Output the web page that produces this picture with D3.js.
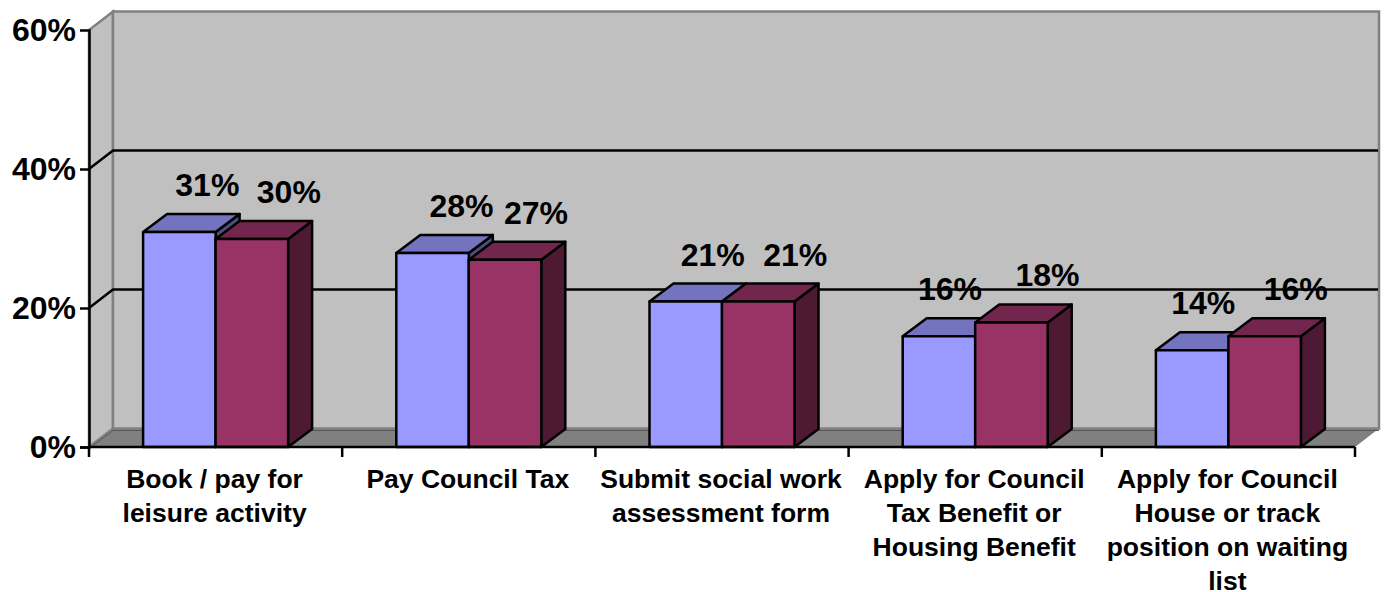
<!DOCTYPE html>
<html>
<head>
<meta charset="utf-8">
<script src="https://cdn.jsdelivr.net/npm/d3@7"></script>
<style>
  html, body { margin: 0; background: #fff; }
  svg { display: block; }
  text { font-family: "Liberation Sans", Arial, sans-serif; font-weight: bold; fill: #000; }
</style>
</head>
<body>
<svg id="chart" width="1385" height="592"></svg>
<script>
const categories = [
  ["Book / pay for", "leisure activity"],
  ["Pay Council Tax"],
  ["Submit social work", "assessment form"],
  ["Apply for Council", "Tax Benefit or", "Housing Benefit"],
  ["Apply for Council", "House or track", "position on waiting", "list"]
];
const seriesA = [31, 28, 21, 16, 14];
const seriesB = [30, 27, 21, 18, 16];
const yTicks = [0, 20, 40, 60];

// hand placed data labels, px right of the bar centre
const labelNudgeA = [28, 29, 27, 11, 11];
const labelNudgeB = [37, 31, 37, 36, 31];

const svg = d3.select("#chart");
const plotL = 89, plotR = 1355, plotB = 447, plotT = 30;
const wallDx = 24, wallDy = 18.5;   // depth of the chart box
const barDx = 24, barDy = 18;       // depth of a bar
const groupW = 145;

const x = d3.scaleBand().domain(d3.range(categories.length)).range([plotL, plotR]);
const series = d3.scaleBand().domain([0, 1]).range([0, groupW]);
const y = d3.scaleLinear().domain([0, 60]).range([plotB, plotT]);
const poly = pts => pts.map(p => p.join(",")).join(" ");

// walls and floor
svg.append("polygon")
  .attr("points", poly([[plotL, plotB], [plotL, plotT], [plotL + wallDx, plotT - wallDy], [plotL + wallDx, plotB - wallDy]]))
  .attr("fill", "#c0c0c0").attr("stroke", "#808080").attr("stroke-width", 2.5);
svg.append("polygon")
  .attr("points", poly([[plotL + wallDx, plotB - wallDy], [plotL + wallDx, plotT - wallDy], [plotR + wallDx, plotT - wallDy], [plotR + wallDx, plotB - wallDy]]))
  .attr("fill", "#c0c0c0").attr("stroke", "#808080").attr("stroke-width", 2.5);
svg.append("polygon")
  .attr("points", poly([[plotL, plotB], [plotL + wallDx, plotB - wallDy], [plotR + wallDx, plotB - wallDy], [plotR, plotB]]))
  .attr("fill", "#808080");
svg.append("polyline")
  .attr("points", poly([[plotL + 2, plotB], [plotL + wallDx, plotB - wallDy + 2], [plotR + wallDx, plotB - wallDy + 2]]))
  .attr("fill", "none").attr("stroke", "#555").attr("stroke-width", 1);

// gridlines
yTicks.filter(t => t > 0 && t < 60).forEach(t => {
  svg.append("polyline")
    .attr("points", poly([[plotL, y(t)], [plotL + wallDx, y(t) - wallDy], [plotR + wallDx - 1, y(t) - wallDy]]))
    .attr("fill", "none").attr("stroke", "#000").attr("stroke-width", 2.5);
});

// bars
function drawBar(i, s, v, front, topFace, side) {
  const x0 = x(i) + (x.bandwidth() - groupW) / 2 + series(s);
  const x1 = x0 + series.bandwidth();
  const yt = y(v) + 0.5;
  const g = svg.append("g").attr("stroke", "#000").attr("stroke-width", 2.5).attr("stroke-linejoin", "round");
  g.append("polygon").attr("fill", side)
    .attr("points", poly([[x1, plotB], [x1, yt], [x1 + barDx, yt - barDy], [x1 + barDx, plotB - barDy]]));
  g.append("polygon").attr("fill", topFace)
    .attr("points", poly([[x0, yt], [x0 + barDx, yt - barDy], [x1 + barDx, yt - barDy], [x1, yt]]));
  g.append("rect").attr("x", x0).attr("y", yt).attr("width", x1 - x0).attr("height", plotB - yt).attr("fill", front);
}
categories.forEach((c, i) => {
  drawBar(i, 0, seriesA[i], "#9999ff", "#7373bf", "#4d4d80");
  drawBar(i, 1, seriesB[i], "#993366", "#73264d", "#4d1933");
});

// axes
const yAxis = d3.axisLeft(y).tickValues(yTicks).tickSize(9).tickPadding(4).tickFormat(d => d + "%");
const gy = svg.append("g").attr("transform", `translate(${plotL},0)`).call(yAxis);
gy.select(".domain").attr("stroke", "#000").attr("stroke-width", 2.5);
gy.selectAll(".tick line").attr("stroke", "#000").attr("stroke-width", 2.5)
  .attr("display", d => d === 60 ? "none" : null);
gy.selectAll("text").attr("font-size", 32);
gy.attr("font-size", null);

const gx = svg.append("g").attr("transform", `translate(0,${plotB})`);
gx.append("line").attr("x1", plotL).attr("x2", plotR).attr("stroke", "#000").attr("stroke-width", 2.5);
d3.range(categories.length + 1).forEach(i => {
  const px = plotL + i * x.step();
  gx.append("line").attr("x1", px).attr("x2", px).attr("y1", 0).attr("y2", 10)
    .attr("stroke", "#000").attr("stroke-width", 2.5);
});
categories.forEach((lines, i) => {
  const t = svg.append("text").attr("text-anchor", "middle").attr("font-size", 26.5);
  lines.forEach((ln, k) => {
    t.append("tspan").attr("x", x(i) + x.bandwidth() / 2 - 1).attr("y", 488 + k * 34).text(ln);
  });
});

// data labels
[[seriesA, labelNudgeA, 0], [seriesB, labelNudgeB, 1]].forEach(([vals, nudge, s]) => {
  vals.forEach((v, i) => {
    svg.append("text")
      .attr("x", x(i) + (x.bandwidth() - groupW) / 2 + series(s) + series.bandwidth() / 2 + nudge[i])
      .attr("y", y(v) - 35.5)
      .attr("text-anchor", "middle").attr("font-size", 32)
      .text(v + "%");
  });
});
</script>
</body>
</html>
